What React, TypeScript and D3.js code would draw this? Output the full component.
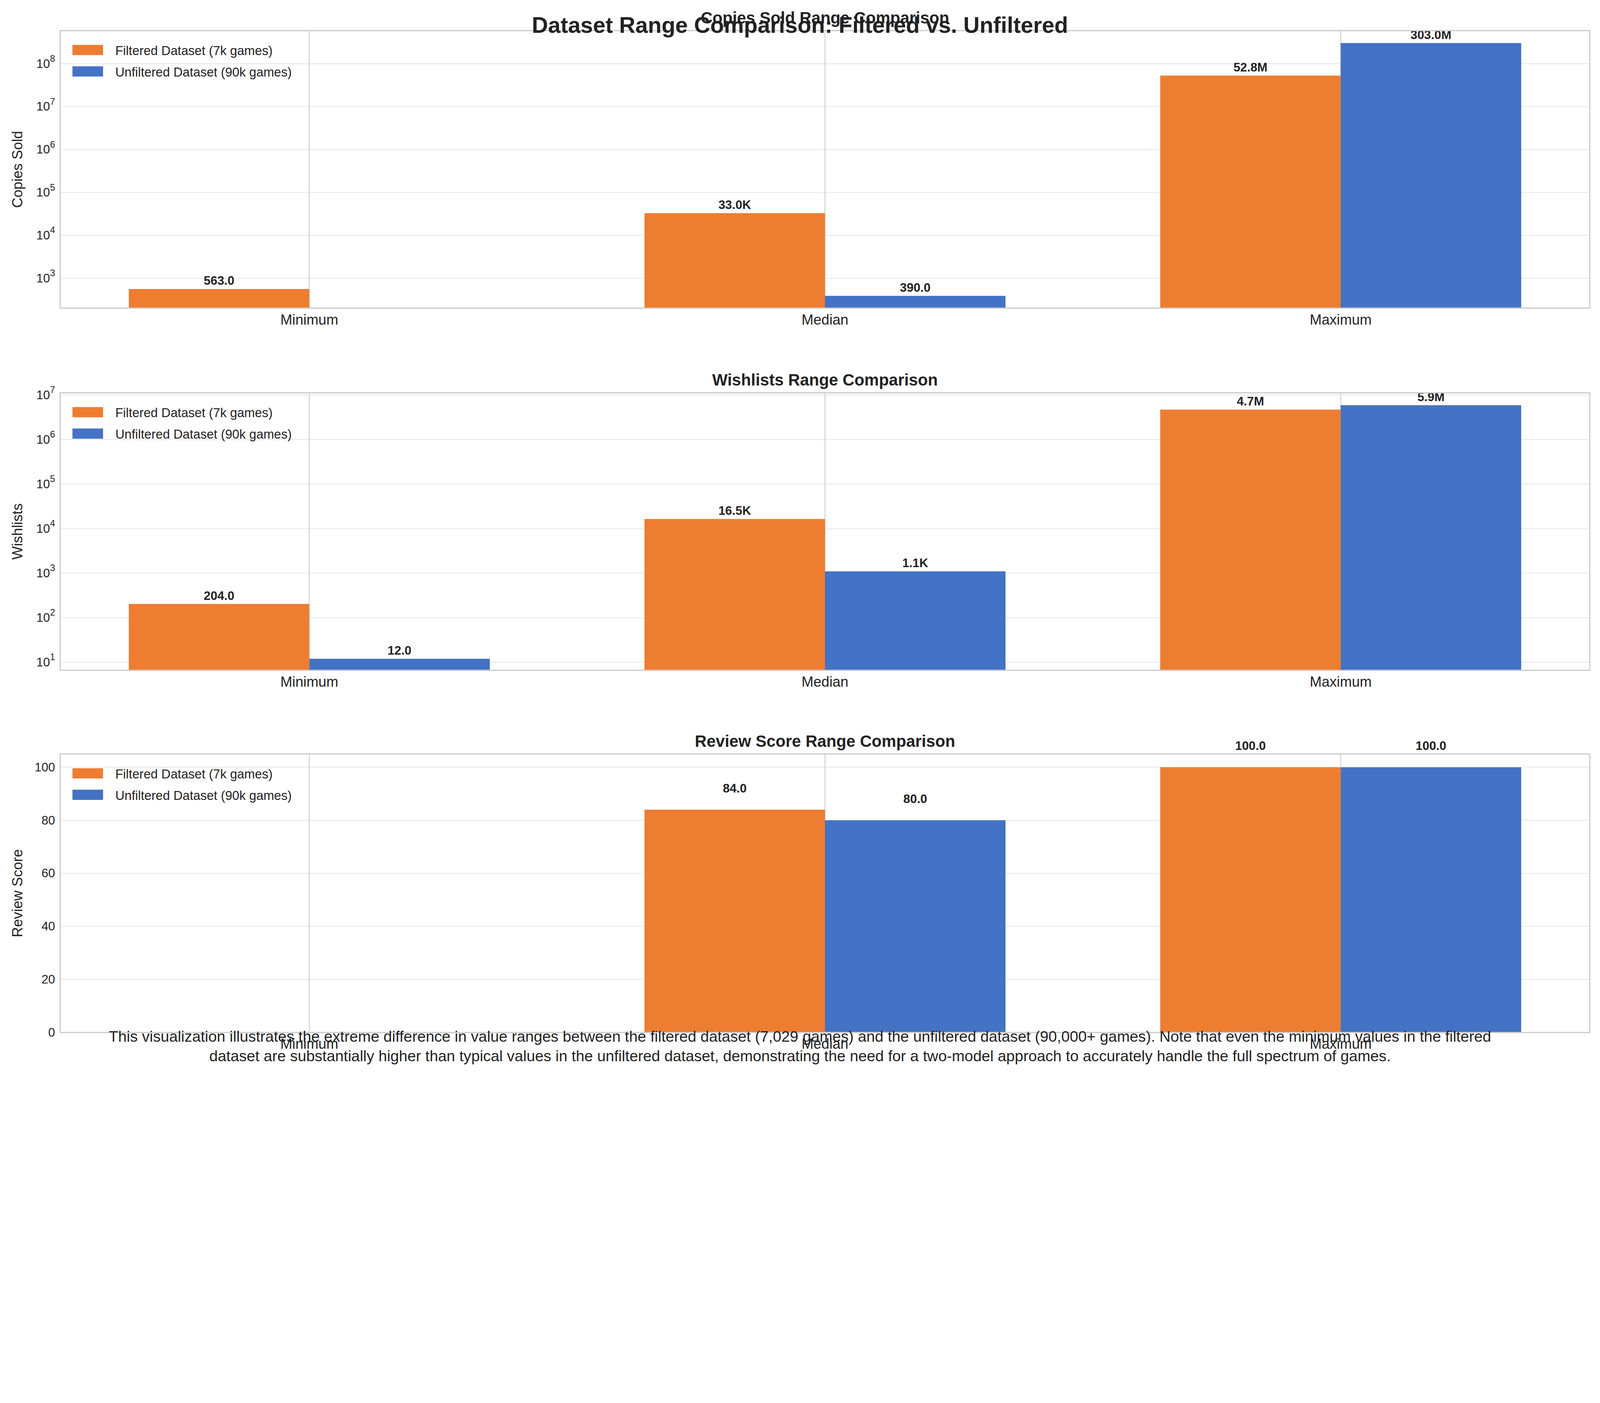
import * as d3 from "d3";

const categories = ["Minimum", "Median", "Maximum"];
const seriesNames = ["Filtered Dataset (7k games)", "Unfiltered Dataset (90k games)"];
const colors = ["#ED7D31", "#4472C4"];

const copiesFiltered = [563, 33000, 52.8e6];
const copiesUnfiltered = [0, 390, 303.0e6];
const wishFiltered = [204, 16500, 4.7e6];
const wishUnfiltered = [12, 1100, 5.9e6];
const reviewFiltered = [0, 84, 100];
const reviewUnfiltered = [0, 80, 100];

const W = 1568;
const H = 1052.4;
const FONT = "'Liberation Sans', Arial, sans-serif";
const X0 = 59;
const X1 = 1558;

const fmt = (v: number) =>
  v >= 1e6 ? `${(v / 1e6).toFixed(1)}M` : v >= 1e3 ? `${(v / 1e3).toFixed(1)}K` : v.toFixed(1);

type Panel = {
  title: string;
  ylabel: string;
  top: number;
  bottom: number;
  log: boolean;
  domain: [number, number];
  ticks: number[];
  series: number[][];
};

const panels: Panel[] = [
  { title: "Copies Sold Range Comparison", ylabel: "Copies Sold", top: 30, bottom: 302, log: true, domain: [202, 5.9e8], ticks: [1e3, 1e4, 1e5, 1e6, 1e7, 1e8], series: [copiesFiltered, copiesUnfiltered] },
  { title: "Wishlists Range Comparison", ylabel: "Wishlists", top: 385, bottom: 657, log: true, domain: [6.6, 1.12e7], ticks: [1e1, 1e2, 1e3, 1e4, 1e5, 1e6, 1e7], series: [wishFiltered, wishUnfiltered] },
  { title: "Review Score Range Comparison", ylabel: "Review Score", top: 739, bottom: 1012, log: false, domain: [0, 105], ticks: [0, 20, 40, 60, 80, 100], series: [reviewFiltered, reviewUnfiltered] },
];

const x = d3.scaleLinear().domain([-0.483, 2.483]).range([X0, X1]);
const barW = 0.35;

function PanelView({ p }: { p: Panel }) {
  const y = p.log
    ? d3.scaleLog().domain(p.domain).range([p.bottom, p.top])
    : d3.scaleLinear().domain(p.domain).range([p.bottom, p.top]);
  const base = p.log ? p.bottom : y(0);
  return (
    <g>
      {p.ticks.map((t) => (
        <g key={t}>
          <line x1={X0} x2={X1} y1={y(t)} y2={y(t)} stroke="#ebebeb" strokeWidth={1} />
          {p.log ? (
            <text x={X0 - 5} y={y(t) + 4} textAnchor="end" fontSize={12} fill="#222">
              10<tspan dy={-6} fontSize={9}>{Math.log10(t)}</tspan>
            </text>
          ) : (
            <text x={X0 - 5} y={y(t) + 4} textAnchor="end" fontSize={12} fill="#222">{t}</text>
          )}
        </g>
      ))}
      {categories.map((c, i) => (
        <g key={c}>
          <line x1={x(i)} x2={x(i)} y1={p.top} y2={p.bottom} stroke="#d4d4d4" strokeWidth={1} />
          <text x={x(i)} y={p.bottom + 16} textAnchor="middle" fontSize={14} fill="#222">{c}</text>
        </g>
      ))}
      {p.series.map((vals, s) =>
        vals.map((v, i) => {
          if (v <= 0) return null;
          const x0 = x(i + (s === 0 ? -barW : 0));
          const x1 = x(i + (s === 0 ? 0 : barW));
          const yt = y(v);
          return (
            <g key={`${s}-${i}`}>
              <rect x={x0} y={yt} width={x1 - x0} height={base - yt} fill={colors[s]} />
              <text x={(x0 + x1) / 2} y={p.log ? yt - 4 : yt - 17} textAnchor="middle" fontSize={12} fontWeight="bold" fill="#222">{fmt(v)}</text>
            </g>
          );
        })
      )}
      <rect x={X0} y={p.top} width={X1 - X0} height={p.bottom - p.top} fill="none" stroke="#cccccc" strokeWidth={1.2} />
      <text x={(X0 + X1) / 2} y={p.top - 7} textAnchor="middle" fontSize={16} fontWeight="bold" fill="#222">{p.title}</text>
      <text transform={`translate(22,${(p.top + p.bottom) / 2}) rotate(-90)`} textAnchor="middle" fontSize={14} fill="#222">{p.ylabel}</text>
      {seriesNames.map((n, s) => (
        <g key={n}>
          <rect x={71} y={p.top + 14 + s * 21} width={30} height={10} fill={colors[s]} />
          <text x={113} y={p.top + 24 + s * 21} fontSize={12.5} fill="#222">{n}</text>
        </g>
      ))}
    </g>
  );
}

export default function App() {
  const vw = typeof window !== "undefined" ? window.innerWidth : 5352;
  const vh = Math.round((vw * 3592) / 5352);
  return (
    <svg
      width={vw}
      height={vh}
      viewBox={`0 0 ${W} ${H}`}
      preserveAspectRatio="none"
      style={{ position: "absolute", left: 0, top: 0, background: "#fff" }}
      fontFamily={FONT}
    >
      <rect width={W} height={H} fill="#fff" />
      {panels.map((p) => (
        <PanelView key={p.title} p={p} />
      ))}
      <text x={W / 2} y={32} textAnchor="middle" fontSize={22} fontWeight="bold" fill="#222">Dataset Range Comparison: Filtered vs. Unfiltered</text>
      <text x={W / 2} y={1021} textAnchor="middle" fontSize={15} fill="#222">This visualization illustrates the extreme difference in value ranges between the filtered dataset (7,029 games) and the unfiltered dataset (90,000+ games). Note that even the minimum values in the filtered</text>
      <text x={W / 2} y={1040} textAnchor="middle" fontSize={15} fill="#222">dataset are substantially higher than typical values in the unfiltered dataset, demonstrating the need for a two-model approach to accurately handle the full spectrum of games.</text>
    </svg>
  );
}
